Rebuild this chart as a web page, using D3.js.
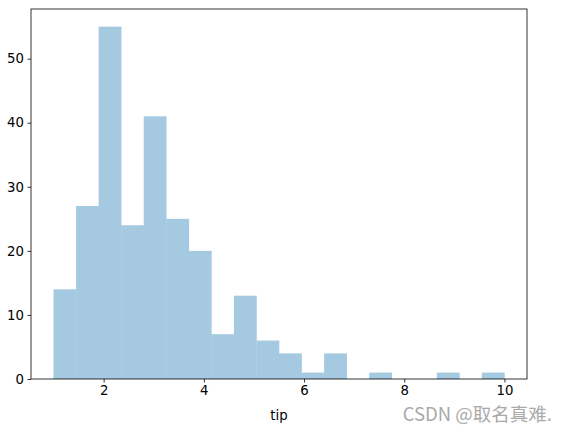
<!DOCTYPE html>
<html><head><meta charset="utf-8">
<script src="https://cdn.jsdelivr.net/npm/d3@7"></script>
<style>body{margin:0;background:#fff}svg{display:block}</style>
</head><body>
<script>
const binStart = 1.0;
const binWidth = 0.45;
const counts = [14, 27, 55, 24, 41, 25, 20, 7, 13, 6, 4, 1, 4, 0, 1, 0, 0, 1, 0, 1];
const xTicks = [2, 4, 6, 8, 10];
const yTicks = [0, 10, 20, 30, 40, 50];
const xLabel = "tip";
const watermark = "CSDN @取名真难.";

const W = 564, H = 433;
const m = {left: 31, right: 37, top: 9, bottom: 54};
const svg = d3.select("body").append("svg").attr("width", W).attr("height", H);
const x = d3.scaleLinear().domain([0.55, 10.45]).range([m.left, W - m.right]);
const y = d3.scaleLinear().domain([0, 57.75]).range([H - m.bottom, m.top]);
const font = "DejaVu Sans, sans-serif";

const bins = counts.map((c, i) => ({x0: binStart + i * binWidth, x1: binStart + (i + 1) * binWidth, c}));
svg.append("g").selectAll("rect").data(bins.filter(d => d.c > 0)).join("rect")
  .attr("x", d => x(d.x0)).attr("width", d => x(d.x1) - x(d.x0) + 0.3)
  .attr("y", d => y(d.c)).attr("height", d => y(0) - y(d.c))
  .attr("fill", "rgb(165,201,225)");

const xa = svg.append("g").attr("transform", `translate(0,${H - m.bottom})`)
  .call(d3.axisBottom(x).tickValues(xTicks).tickSize(3.5).tickPadding(3.5).tickSizeOuter(0));
const ya = svg.append("g").attr("transform", `translate(${m.left},0)`)
  .call(d3.axisLeft(y).tickValues(yTicks).tickSize(3.5).tickPadding(3.5).tickSizeOuter(0));
[xa, ya].forEach(a => {
  a.select(".domain").remove();
  a.selectAll("text").attr("font-family", font).attr("font-size", 13.3).attr("fill", "#000");
  a.selectAll("line").attr("stroke", "#000").attr("stroke-width", 0.8);
});
svg.append("rect").attr("x", m.left).attr("y", m.top)
  .attr("width", W - m.left - m.right).attr("height", H - m.top - m.bottom)
  .attr("fill", "none").attr("stroke", "#000").attr("stroke-width", 0.8);

svg.append("text").attr("x", (m.left + W - m.right) / 2).attr("y", 420)
  .attr("text-anchor", "middle").attr("font-family", font).attr("font-size", 13.3).text(xLabel);
svg.append("text").attr("x", 552).attr("y", 421).attr("text-anchor", "end")
  .attr("font-family", "Noto Sans CJK SC, sans-serif").attr("font-size", 18.5).attr("fill", "#aaaaaa")
  .text(watermark);
</script>
</body></html>
